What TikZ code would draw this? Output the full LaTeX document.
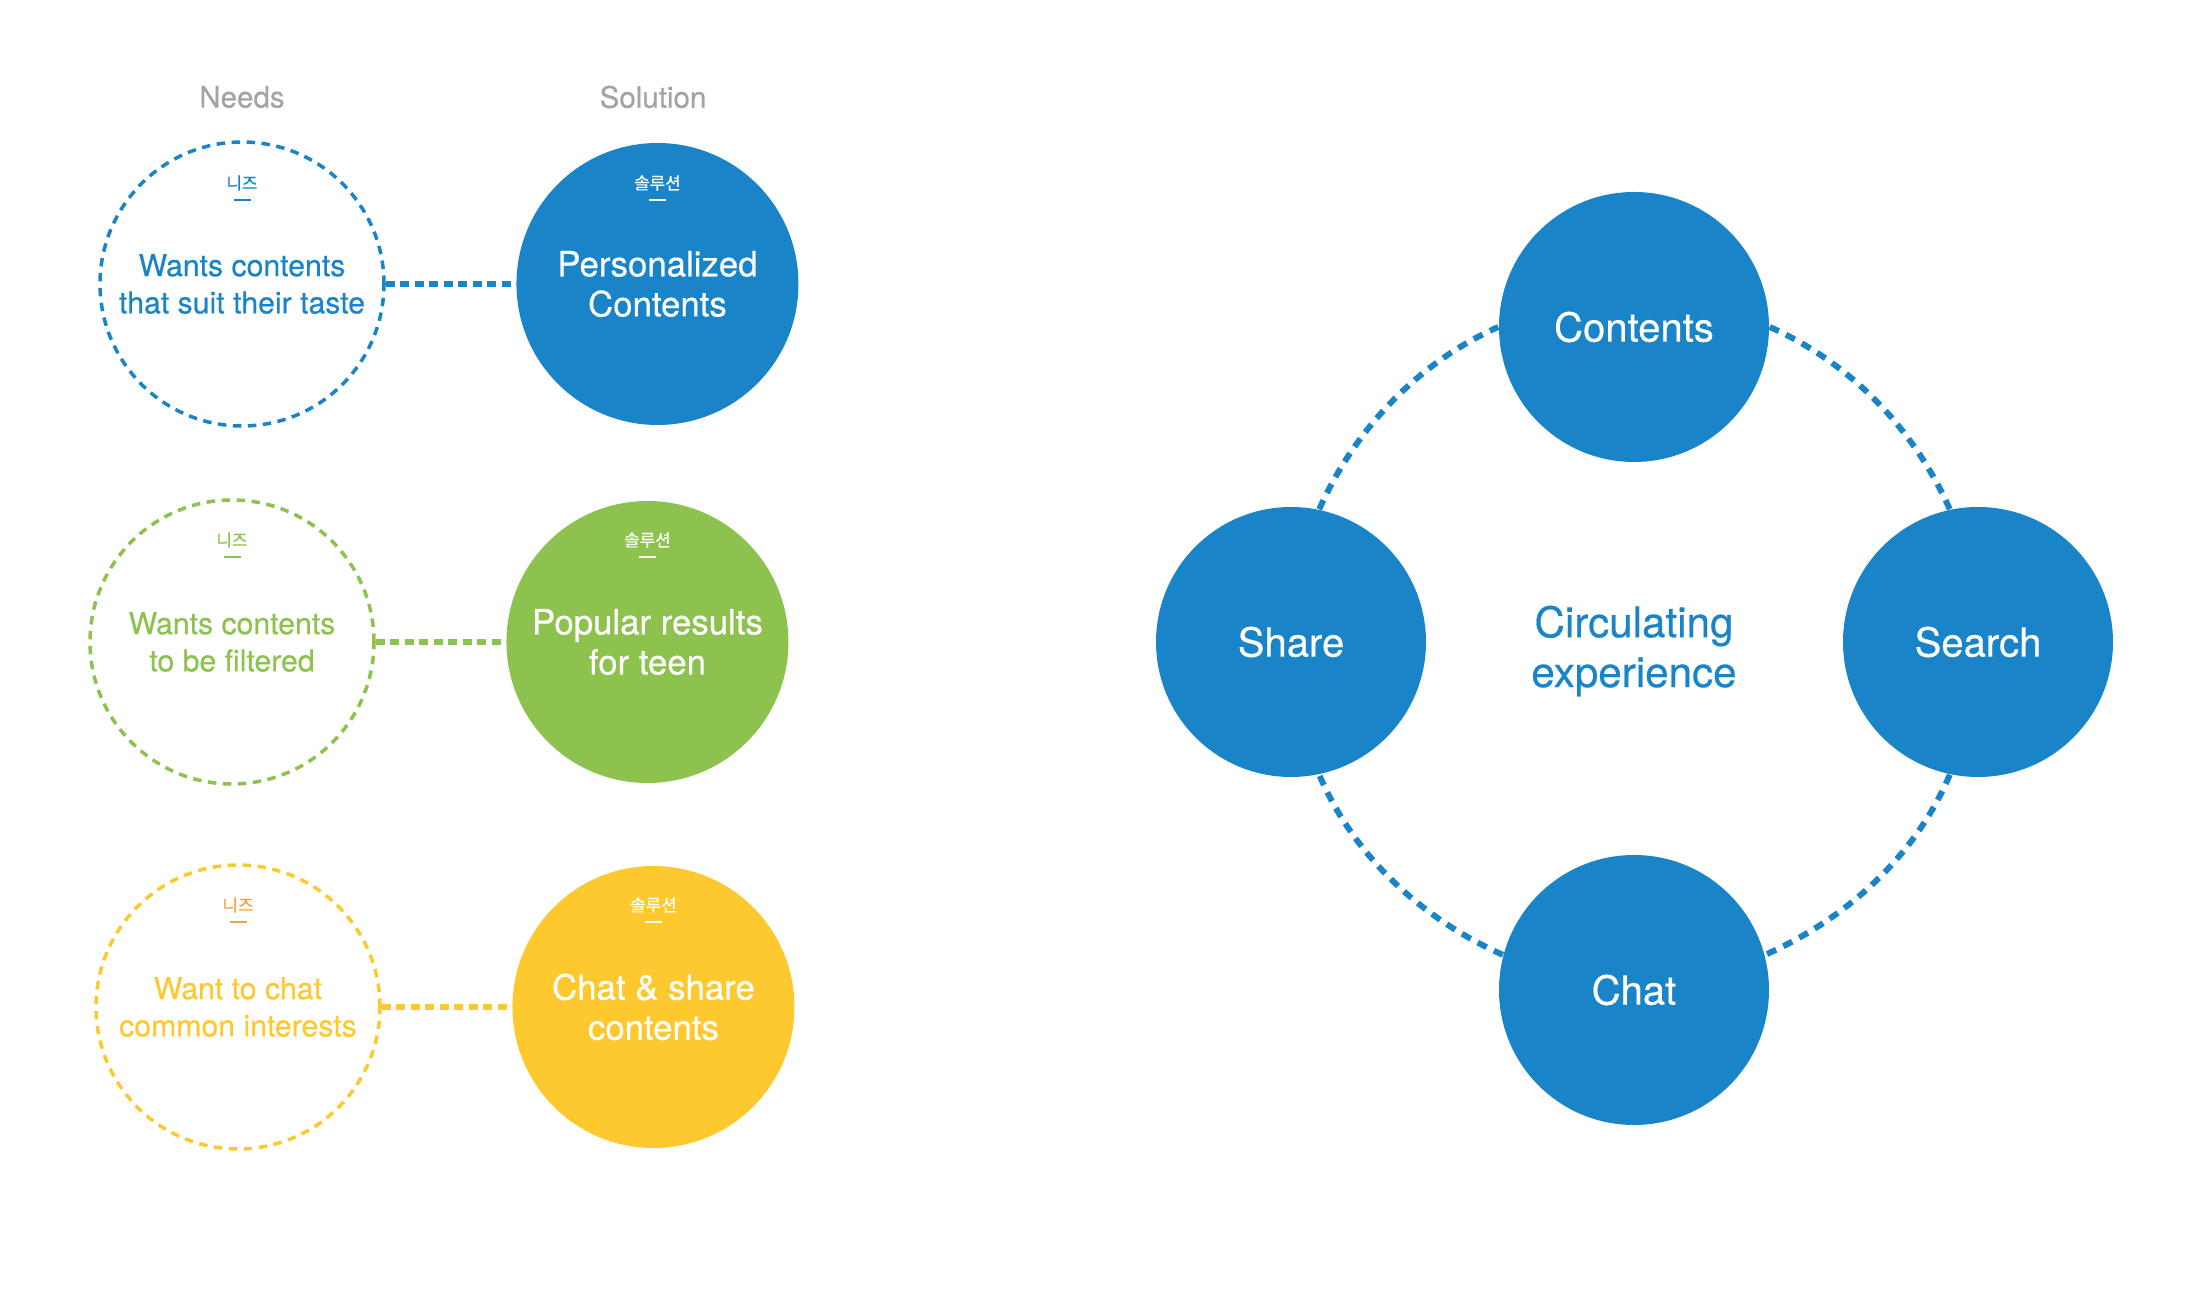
\documentclass[tikz,border=0pt]{standalone}
\usepackage{fontspec}
\setmainfont{TeX Gyre Heros}[FakeBold=0.45]
\newfontfamily\kr{Noto Sans CJK KR}[FakeBold=0.6]
\usetikzlibrary{positioning,calc}
\definecolor{ckblue}{RGB}{26,132,200}
\definecolor{ckgreen}{RGB}{141,194,78}
\definecolor{ckyellow}{RGB}{254,201,47}
\definecolor{ckorange}{RGB}{242,166,58}
\definecolor{ckgray}{RGB}{163,163,163}
\tikzset{
    need/.style={circle, draw=#1, text=#1, line width=1pt, dash pattern=on 0.085cm off 0.065cm,
        minimum size=2.84cm, align=center, font=\fontsize{8.6}{10.6}\selectfont},
    solution/.style={circle, fill=#1, text=white, minimum size=2.82cm, align=center,
        font=\fontsize{9.9}{11.4}\selectfont},
    kortag/.style={text=#1, inner sep=0pt, font=\kr\fontsize{4.8}{5.5}\selectfont},
    tagline/.style={draw=#1, line width=0.8pt},
    link/.style={draw=#1, line width=1.5pt, dash pattern=on 0.09cm off 0.055cm},
    header/.style={text=ckgray, font=\fontsize{8.4}{10}\selectfont},
    stage/.style={circle, fill=ckblue, text=white, minimum size=2.7cm,
        font=\fontsize{11.4}{13}\selectfont},
    ring/.style={draw=ckblue, line width=1.7pt, dash pattern=on 0.1cm off 0.08cm, looseness=0.88}
}
\begin{document}
\begin{tikzpicture}[auto, node distance=1.3cm]
    \useasboundingbox (0,0) rectangle (22.1,12.9);

    % needs and solutions
    \node [header] (needs) at (2.42,11.93) {Needs};
    \node [header] (sol) at (6.53,11.93) {Solution};

    \node [need=ckblue] (N1) at (2.42,10.06) {Wants contents\\that suit their taste};
    \node [solution=ckblue, right=of N1] (S1) {Personalized\\Contents};
    \node [need=ckgreen] (N2) at (2.32,6.48) {Wants contents\\to be filtered};
    \node [solution=ckgreen, right=of N2] (S2) {Popular results\\for teen};
    \node [need=ckyellow] (N3) at (2.38,2.83) {Want to chat\\common interests};
    \node [solution=ckyellow, right=of N3] (S3) {Chat \& share\\contents};

    \node [kortag=ckblue] (KN1) at ($(N1)+(0,1.01)$) {니즈};
    \node [kortag=white] (KS1) at ($(S1)+(0,1.01)$) {솔루션};
    \node [kortag=ckgreen] (KN2) at ($(N2)+(0,1.02)$) {니즈};
    \node [kortag=white] (KS2) at ($(S2)+(0,1.02)$) {솔루션};
    \node [kortag=ckorange] (KN3) at ($(N3)+(0,1.02)$) {니즈};
    \node [kortag=white] (KS3) at ($(S3)+(0,1.02)$) {솔루션};

    \draw [tagline=ckblue] ($(KN1)+(-0.085,-0.17)$) -- ++(0.17,0);
    \draw [tagline=white] ($(KS1)+(-0.085,-0.17)$) -- ++(0.17,0);
    \draw [tagline=ckgreen] ($(KN2)+(-0.085,-0.17)$) -- ++(0.17,0);
    \draw [tagline=white] ($(KS2)+(-0.085,-0.17)$) -- ++(0.17,0);
    \draw [tagline=ckorange] ($(KN3)+(-0.085,-0.17)$) -- ++(0.17,0);
    \draw [tagline=white] ($(KS3)+(-0.085,-0.17)$) -- ++(0.17,0);

    \draw [link=ckblue] (N1) -- (S1);
    \draw [link=ckgreen] (N2) -- (S2);
    \draw [link=ckyellow] (N3) -- (S3);

    % circulating experience
    \node [text=ckblue, align=center, font=\fontsize{12}{14.2}\selectfont] (circ) at (16.34,6.39) {Circulating\\experience};
    \node [stage] (contents) at (16.34,9.63) {Contents};
    \node [stage] (share) at (12.91,6.48) {Share};
    \node [stage] (search) at (19.78,6.48) {Search};
    \node [stage] (chat) at (16.34,3.00) {Chat};

    \draw [ring] (contents.east) to[out=-24, in=114] (search.102);
    \draw [ring] (search.-102) to[out=-113, in=24] (chat.15);
    \draw [ring] (chat.165) to[out=156, in=-67] (share.-78);
    \draw [ring] (share.78) to[out=66, in=-156] (contents.west);
\end{tikzpicture}
\end{document}
